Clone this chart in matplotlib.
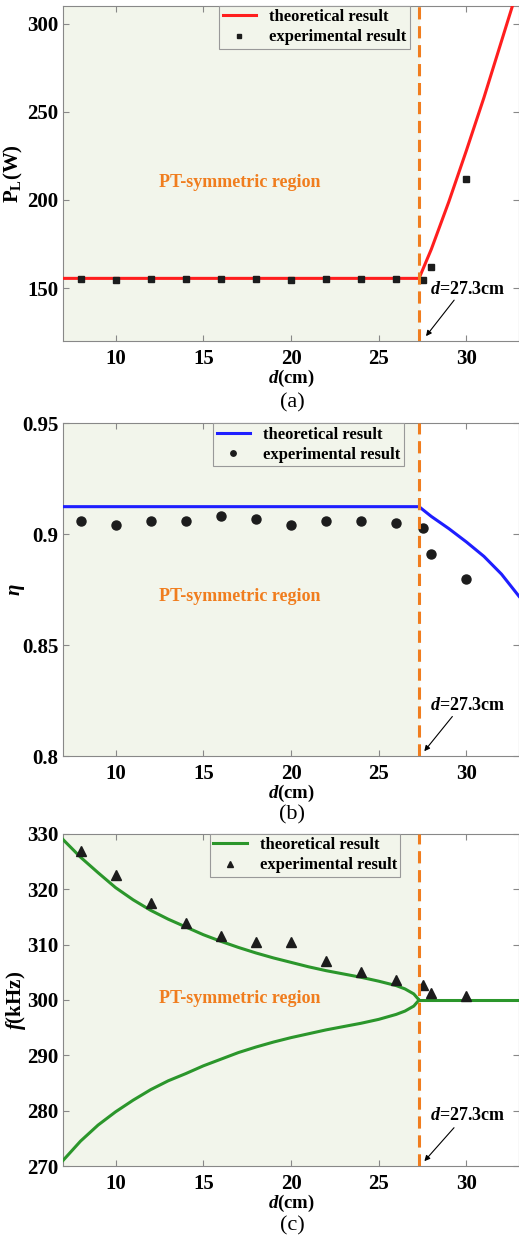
import numpy as np
import matplotlib
matplotlib.use("Agg")
import matplotlib.pyplot as plt

plt.rcParams["font.family"] = ["Liberation Serif", "DejaVu Serif"]
plt.rcParams["font.weight"] = "bold"
plt.rcParams["axes.labelweight"] = "bold"
plt.rcParams["mathtext.fontset"] = "custom"
plt.rcParams["mathtext.rm"] = "Liberation Serif:bold"
plt.rcParams["mathtext.it"] = "Liberation Serif:italic:bold"
plt.rcParams["mathtext.bf"] = "Liberation Serif:bold"

# experimental distances (cm)
d_exp = [8, 10, 12, 14, 16, 18, 20, 22, 24, 26, 27.5, 28, 30]

# (a) load power
p_exp = [155, 154.5, 155.3, 155, 155.3, 155.2, 154.5, 155.2, 155, 155, 154.5, 162, 212]
p_th_d = [7, 27.3, 28, 29, 30, 31, 32, 33]
p_th = [155.5, 155.5, 172, 199, 228, 258, 290, 322]

# (b) efficiency
eta_exp = [0.906, 0.904, 0.906, 0.906, 0.908, 0.907, 0.904, 0.906, 0.906, 0.905, 0.903, 0.891, 0.880]
eta_th_d = [7, 27.3, 28, 29, 30, 31, 32, 33]
eta_th = [0.9124, 0.9124, 0.908, 0.9025, 0.8965, 0.8900, 0.882, 0.872]

# (c) frequency
f_exp = [327.0, 322.5, 317.5, 314.0, 311.6, 310.4, 310.4, 307.0, 305.1, 303.6, 302.8, 301.2, 300.7]
f_th_d = [7, 8, 9, 10, 11, 12, 13, 14, 15, 16, 17, 18, 19, 20, 21, 22, 23, 24, 25, 26, 26.5, 27, 27.3]
f_up = [329.0, 325.8, 323.0, 320.3, 318.1, 316.2, 314.6, 313.2, 311.8, 310.6, 309.5, 308.5, 307.6,
        306.8, 306.0, 305.3, 304.7, 304.1, 303.4, 302.6, 302.0, 301.1, 300.0]
f_low = [271.0, 274.5, 277.4, 279.8, 281.9, 283.8, 285.4, 286.7, 288.1, 289.3, 290.5, 291.5, 292.4,
         293.2, 293.9, 294.6, 295.2, 295.8, 296.5, 297.4, 298.0, 298.9, 300.0]
f_flat_d = [27.3, 33]
f_flat = [300, 300]

d_ep = 27.3

fig = plt.figure(figsize=(5.19, 12.39), dpi=100)
bg = "#f2f5eb"
orange = "#f07d1e"

panels = [
    dict(rect=[0.1214, 0.7248, 0.8786, 0.2704], ylim=(120, 310), yticks=[150, 200, 250, 300],
         ylabel=r"P$_\mathrm{L}$(W)", ylx=-0.083, exp=p_exp, thd=[p_th_d], th=[p_th], color="#ff1e1e",
         marker="s", ms=5, leg_x=0.552, pt_y=209.6, txt=(30.1, 149), arr=((29.4, 144.4), (27.6, 121.5)),
         tag="(a)", tag_y=403, ytfmt=None),
    dict(rect=[0.1214, 0.3898, 0.8786, 0.2686], ylim=(0.8, 0.95), yticks=[0.8, 0.85, 0.9, 0.95],
         ylabel=r"$\eta$", ylx=-0.078, exp=eta_exp, thd=[eta_th_d], th=[eta_th], color="#1e1eff",
         marker="o", ms=6.5, leg_x=0.539, pt_y=0.872, txt=(30.1, 0.8229), arr=((29.3, 0.8188), (27.5, 0.8012)),
         tag="(b)", tag_y=815, ytfmt=["0.8", "0.85", "0.9", "0.95"]),
    dict(rect=[0.1214, 0.0589, 0.8786, 0.268], ylim=(270, 330), yticks=[270, 280, 290, 300, 310, 320, 330],
         ylabel=r"$f$(kHz)", ylx=-0.076, exp=f_exp, thd=[f_th_d, f_th_d, f_flat_d], th=[f_up, f_low, f_flat],
         color="#2b962b", marker="^", ms=7, leg_x=0.531, pt_y=300.2, txt=(30.05, 279.2),
         arr=((29.4, 277.3), (27.5, 270.5)), tag="(c)", tag_y=1226, ytfmt=None),
]

for p in panels:
    ax = fig.add_axes(p["rect"])
    ax.axvspan(7, d_ep, color=bg, zorder=0)
    lines = []
    for xd, yd in zip(p["thd"], p["th"]):
        ln, = ax.plot(xd, yd, color=p["color"], lw=2.2, zorder=3)
        lines.append(ln)
    pts, = ax.plot(d_exp, p["exp"], linestyle="none", marker=p["marker"], ms=p["ms"],
                   color="#1c1c1c", zorder=4)
    ax.axvline(d_ep, color=orange, lw=2.2, linestyle=(0, (4, 2.2)), zorder=5)
    ax.set_xlim(7, 33)
    ax.set_ylim(*p["ylim"])
    ax.set_xticks([10, 15, 20, 25, 30])
    ax.set_yticks(p["yticks"])
    if p["ytfmt"]:
        ax.set_yticklabels(p["ytfmt"])
    ax.tick_params(direction="in", top=True, right=True, labelsize=15, length=4, color="#888888")
    ax.tick_params(axis="x", pad=6)
    for s in ax.spines.values():
        s.set_color("#888888")
    ax.set_xlabel(r"$d$(cm)", fontsize=13.5, labelpad=-1)
    ax.set_ylabel(p["ylabel"], fontsize=15)
    ax.yaxis.set_label_coords(p["ylx"], 0.5)
    ax.text(17.1, p["pt_y"], "PT-symmetric region", color=orange, fontsize=13,
            ha="center", va="center", zorder=6)
    ax.text(p["txt"][0], p["txt"][1], r"$d$=27.3cm", fontsize=13, ha="center", va="center")
    ax.annotate("", xy=p["arr"][1], xytext=p["arr"][0],
                arrowprops=dict(arrowstyle="-|>", color="black", lw=0.8, mutation_scale=8))
    leg = ax.legend([lines[0], pts], ["theoretical result", "experimental result"],
                    loc="upper center", bbox_to_anchor=(p["leg_x"], 1.0), fontsize=12,
                    fancybox=False, framealpha=1, edgecolor="#999999", markerscale=0.6,
                    borderpad=0.2, handlelength=2.0, labelspacing=0.25, borderaxespad=0.0)
    leg.get_frame().set_facecolor(bg)
    leg.get_frame().set_linewidth(0.8)
    fig.text(292 / 519, 1 - p["tag_y"] / 1239, p["tag"], fontsize=16, fontweight="normal",
             ha="center", va="center")

fig.savefig("out.png", dpi=100)
